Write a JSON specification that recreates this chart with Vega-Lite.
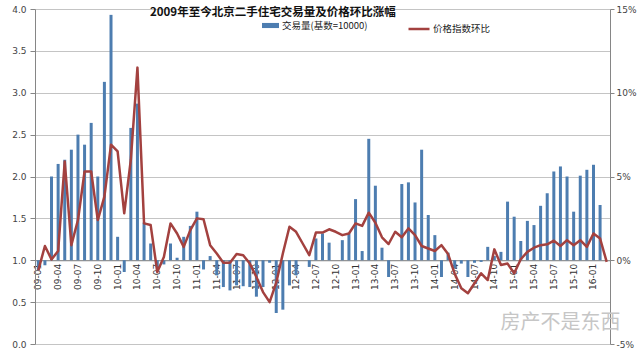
{
  "$schema": "https://vega.github.io/schema/vega-lite/v6.json",
  "width": 575,
  "height": 335,
  "autosize": {"type": "none"},
  "padding": {"left": 35, "top": 9, "right": 30, "bottom": 11},
  "background": "white",
  "config": {
    "view": {"stroke": null},
    "axis": {"titleFont": "DejaVu Sans"}
  },
  "title": {
    "text": "2009年至今北京二手住宅交易量及价格环比涨幅",
    "anchor": "start",
    "frame": "group",
    "dx": 115,
    "offset": -19,
    "baseline": "middle",
    "font": "Noto Sans CJK SC",
    "fontSize": 11.5,
    "fontWeight": "bold",
    "color": "#111"
  },
  "datasets": {
    "main": [
      {"m": "09-01", "vol": 0.88, "pct": -0.6},
      {"m": "09-02", "vol": 0.94, "pct": 0.85},
      {"m": "09-03", "vol": 2.0, "pct": 0.05},
      {"m": "09-04", "vol": 2.15, "pct": 0.55},
      {"m": "09-05", "vol": 2.2, "pct": 5.9},
      {"m": "09-06", "vol": 2.32, "pct": 0.9},
      {"m": "09-07", "vol": 2.5, "pct": 2.4},
      {"m": "09-08", "vol": 2.38, "pct": 5.3},
      {"m": "09-09", "vol": 2.64, "pct": 5.3},
      {"m": "09-10", "vol": 2.0, "pct": 2.4},
      {"m": "09-11", "vol": 3.13, "pct": 3.8},
      {"m": "09-12", "vol": 3.93, "pct": 6.9},
      {"m": "10-01", "vol": 1.28, "pct": 6.5},
      {"m": "10-02", "vol": 0.86, "pct": 2.8},
      {"m": "10-03", "vol": 2.58, "pct": 6.0},
      {"m": "10-04", "vol": 2.87, "pct": 11.5},
      {"m": "10-05", "vol": 1.45, "pct": 2.2},
      {"m": "10-06", "vol": 1.2, "pct": 2.1},
      {"m": "10-07", "vol": 0.92, "pct": -0.7},
      {"m": "10-08", "vol": 0.95, "pct": 0.2},
      {"m": "10-09", "vol": 1.2, "pct": 2.2},
      {"m": "10-10", "vol": 1.03, "pct": 1.6},
      {"m": "10-11", "vol": 1.28, "pct": 0.8},
      {"m": "10-12", "vol": 1.41, "pct": 1.8},
      {"m": "11-01", "vol": 1.58, "pct": 2.5},
      {"m": "11-02", "vol": 0.89, "pct": 2.45},
      {"m": "11-03", "vol": 1.05, "pct": 0.9},
      {"m": "11-04", "vol": 0.82, "pct": 0.4},
      {"m": "11-05", "vol": 0.68, "pct": -0.15},
      {"m": "11-06", "vol": 0.64, "pct": -0.15},
      {"m": "11-07", "vol": 0.7, "pct": 0.37},
      {"m": "11-08", "vol": 0.69, "pct": 0.3},
      {"m": "11-09", "vol": 0.68, "pct": -0.2},
      {"m": "11-10", "vol": 0.565, "pct": -1.0},
      {"m": "11-11", "vol": 0.68, "pct": -1.9},
      {"m": "11-12", "vol": 0.97, "pct": -2.5},
      {"m": "12-01", "vol": 0.37, "pct": -1.34},
      {"m": "12-02", "vol": 0.41, "pct": 0.4},
      {"m": "12-03", "vol": 0.7, "pct": 2.0},
      {"m": "12-04", "vol": 0.82, "pct": 1.7},
      {"m": "12-05", "vol": 1.0, "pct": 1.0},
      {"m": "12-06", "vol": 0.92, "pct": 0.3},
      {"m": "12-07", "vol": 1.26, "pct": 1.65},
      {"m": "12-08", "vol": 1.32, "pct": 1.65},
      {"m": "12-09", "vol": 1.21, "pct": 1.85},
      {"m": "12-10", "vol": 1.0, "pct": 1.7},
      {"m": "12-11", "vol": 1.24, "pct": 1.5},
      {"m": "12-12", "vol": 1.32, "pct": 1.6},
      {"m": "13-01", "vol": 1.73, "pct": 2.2},
      {"m": "13-02", "vol": 1.11, "pct": 2.05},
      {"m": "13-03", "vol": 2.45, "pct": 2.84},
      {"m": "13-04", "vol": 1.89, "pct": 2.24},
      {"m": "13-05", "vol": 1.15, "pct": 1.37},
      {"m": "13-06", "vol": 0.8, "pct": 0.97},
      {"m": "13-07", "vol": 1.0, "pct": 1.7},
      {"m": "13-08", "vol": 1.91, "pct": 1.37},
      {"m": "13-09", "vol": 1.93, "pct": 1.9},
      {"m": "13-10", "vol": 1.69, "pct": 1.5},
      {"m": "13-11", "vol": 2.32, "pct": 0.85},
      {"m": "13-12", "vol": 1.54, "pct": 0.7},
      {"m": "14-01", "vol": 1.3, "pct": 0.55},
      {"m": "14-02", "vol": 0.8, "pct": 0.9},
      {"m": "14-03", "vol": 1.09, "pct": 0.37},
      {"m": "14-04", "vol": 0.9, "pct": -0.8},
      {"m": "14-05", "vol": 0.96, "pct": -1.67},
      {"m": "14-06", "vol": 0.8, "pct": -1.97},
      {"m": "14-07", "vol": 0.97, "pct": -1.37},
      {"m": "14-08", "vol": 0.98, "pct": -0.78},
      {"m": "14-09", "vol": 1.16, "pct": -1.18},
      {"m": "14-10", "vol": 1.05, "pct": 0.65},
      {"m": "14-11", "vol": 1.1, "pct": -0.28},
      {"m": "14-12", "vol": 1.7, "pct": -0.2},
      {"m": "15-01", "vol": 1.52, "pct": -0.78},
      {"m": "15-02", "vol": 1.23, "pct": 0.06},
      {"m": "15-03", "vol": 1.47, "pct": 0.5},
      {"m": "15-04", "vol": 1.42, "pct": 0.75},
      {"m": "15-05", "vol": 1.65, "pct": 0.9},
      {"m": "15-06", "vol": 1.8, "pct": 0.95},
      {"m": "15-07", "vol": 2.06, "pct": 1.17},
      {"m": "15-08", "vol": 2.12, "pct": 0.85},
      {"m": "15-09", "vol": 2.0, "pct": 1.2},
      {"m": "15-10", "vol": 1.58, "pct": 0.9},
      {"m": "15-11", "vol": 2.01, "pct": 1.2},
      {"m": "15-12", "vol": 2.08, "pct": 0.8},
      {"m": "16-01", "vol": 2.14, "pct": 1.6},
      {"m": "16-02", "vol": 1.66, "pct": 1.3},
      {"m": "16-03", "vol": null, "pct": -0.1}
    ],
    "wm": [{"m": "15-08", "y": 0.245, "t": "房产不是东西"}]
  },
  "layer": [
    {
      "layer": [
        {
          "data": {"name": "main"},
          "mark": {"type": "bar", "width": 3},
          "encoding": {
            "x": {
              "field": "m",
              "type": "ordinal",
              "scale": {"paddingInner": 0.55, "paddingOuter": 0.275},
              "axis": {
                "title": null,
                "values": ["09-01","09-04","09-07","09-10","10-01","10-04","10-07","10-10","11-01","11-04","11-07","11-10","12-01","12-04","12-07","12-10","13-01","13-04","13-07","13-10","14-01","14-04","14-07","14-10","15-01","15-04","15-07","15-10","16-01"],
                "labelAngle": -90,
                "offset": -83.75,
                "ticks": false,
                "grid": false,
                "domainColor": "#868686",
                "labelFont": "DejaVu Sans",
                "labelFontSize": 9,
                "labelColor": "#333",
                "labelPadding": 3
              }
            },
            "y": {
              "field": "vol",
              "type": "quantitative",
              "scale": {"domain": [0, 4], "nice": false},
              "axis": {
                "title": null,
                "values": [0, 0.5, 1, 1.5, 2, 2.5, 3, 3.5, 4],
                "format": ".1f",
                "grid": true,
                "gridColor": "#c4c4c4",
                "domainColor": "#868686",
                "tickColor": "#868686",
                "tickSize": 5,
                "labelFont": "DejaVu Sans",
                "labelFontSize": 9,
                "labelColor": "#444",
                "labelPadding": 4
              }
            },
            "y2": {"datum": 1},
            "fill": {
              "datum": "交易量(基数=10000)",
              "type": "nominal",
              "scale": {"range": ["#4d7db0"]},
              "legend": {
                "orient": "none",
                "legendX": 227,
                "legendY": 8,
                "title": null,
                "padding": 0,
                "symbolType": "M-1,-0.3H1V0.3H-1Z",
                "symbolSize": 289,
                "symbolStrokeWidth": 0,
                "labelFont": "Noto Sans CJK SC",
                "labelFontSize": 9.5,
                "labelColor": "#222",
                "labelOffset": 3
              }
            }
          }
        },
        {
          "data": {"name": "wm"},
          "mark": {"type": "text", "font": "Noto Sans CJK SC", "fontSize": 20, "color": "#c6c6c6"},
          "encoding": {
            "x": {"field": "m", "type": "ordinal"},
            "y": {"field": "y", "type": "quantitative"},
            "text": {"field": "t"}
          }
        }
      ]
    },
    {
      "data": {"name": "main"},
      "mark": {"type": "line", "strokeWidth": 2.5, "strokeJoin": "round"},
      "encoding": {
        "x": {"field": "m", "type": "ordinal"},
        "y": {
          "field": "pct",
          "type": "quantitative",
          "scale": {"domain": [-5, 15], "nice": false},
          "axis": {
            "orient": "right",
            "title": null,
            "values": [-5, 0, 5, 10, 15],
            "labelExpr": "datum.value + '%'",
            "grid": false,
            "domainColor": "#868686",
            "tickColor": "#868686",
            "tickSize": 4,
            "labelFont": "DejaVu Sans",
            "labelFontSize": 9,
            "labelColor": "#444",
            "labelPadding": 2
          }
        },
        "stroke": {
          "datum": "价格指数环比",
          "type": "nominal",
          "scale": {"range": ["#a3413f"]},
          "legend": {
            "orient": "none",
            "legendX": 372,
            "legendY": 8,
            "title": null,
            "padding": 0,
            "symbolType": "stroke",
            "symbolSize": 441,
            "symbolStrokeWidth": 2.5,
            "labelFont": "Noto Sans CJK SC",
            "labelFontSize": 9.5,
            "labelColor": "#222",
            "labelOffset": 2
          }
        }
      }
    }
  ],
  "resolve": {"scale": {"y": "independent"}}
}
